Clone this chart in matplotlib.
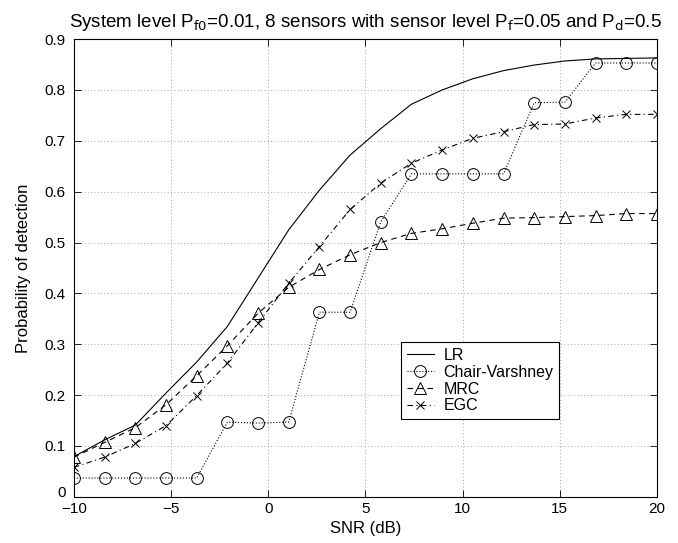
import numpy as np
import matplotlib
matplotlib.use('Agg')
import matplotlib.pyplot as plt
from matplotlib.transforms import ScaledTranslation

plt.rcParams['font.family'] = ['Liberation Sans', 'DejaVu Sans']

# SNR points (dB)
snr = np.linspace(-10, 20, 20)

# curves
pd_lr = [0.079, 0.112, 0.141, 0.204, 0.265, 0.335, 0.430, 0.525, 0.603, 0.672,
         0.724, 0.772, 0.800, 0.822, 0.838, 0.849, 0.857, 0.861, 0.862, 0.863]
pd_cv = [0.037, 0.037, 0.037, 0.037, 0.037, 0.147, 0.145, 0.147, 0.363, 0.363,
         0.541, 0.635, 0.635, 0.635, 0.635, 0.775, 0.776, 0.853, 0.853, 0.853]
pd_mrc = [0.078, 0.107, 0.136, 0.181, 0.238, 0.297, 0.361, 0.412, 0.447, 0.476,
          0.500, 0.518, 0.527, 0.538, 0.548, 0.549, 0.551, 0.553, 0.557, 0.557]
pd_egc = [0.058, 0.078, 0.105, 0.140, 0.199, 0.263, 0.342, 0.420, 0.492, 0.565,
          0.617, 0.656, 0.682, 0.705, 0.718, 0.732, 0.733, 0.745, 0.752, 0.752]

fig, ax = plt.subplots(figsize=(6.78, 5.43), dpi=100)
fig.subplots_adjust(left=0.109, right=0.969, top=0.928, bottom=0.085)

lw = 0.8
ax.plot(snr, pd_lr, '-', color='k', lw=lw, label='LR')
ax.plot(snr, pd_cv, ':', color='k', lw=lw, marker='o', ms=8.5, mfc='none', mew=0.7,
        label='Chair-Varshney')
ax.plot(snr, pd_mrc, '--', color='k', lw=lw, marker='^', ms=8.5, mfc='none', mew=0.7,
        label='MRC', dashes=(5, 4))
ax.plot(snr, pd_egc, '-.', color='k', lw=lw, marker='x', ms=6, mew=0.7,
        label='EGC', dashes=(5, 3, 1, 3))

ax.set_xlim(-10, 20)
ax.set_ylim(0, 0.9)
ax.set_xticks(np.arange(-10, 21, 5))
ax.set_yticks(np.arange(0, 0.91, 0.1))
ax.set_yticklabels(['0', '0.1', '0.2', '0.3', '0.4', '0.5', '0.6', '0.7', '0.8', '0.9'])
ax.tick_params(direction='in', top=True, right=True, labelsize=11, length=5, width=0.6)
ax.tick_params(axis='y', pad=6)
ax.grid(True, ls=(0, (1, 3)), color='#888888', lw=0.6)
for s in ax.spines.values():
    s.set_linewidth(0.8)

# lift the "0" label a bit so it does not run into "-10"
lab0 = ax.get_yticklabels()[0]
lab0.set_transform(lab0.get_transform() + ScaledTranslation(0, 4 / 72, fig.dpi_scale_trans))

ax.set_xlabel('SNR (dB)', fontsize=12)
ax.set_ylabel('Probability of detection', fontsize=12, labelpad=10)
ax.set_title(r'System level P$_{\rm f0}$=0.01, 8 sensors with sensor level P$_{\rm f}$=0.05 and P$_{\rm d}$=0.5',
             fontsize=13.5, pad=9)

leg = ax.legend(loc='upper left', bbox_to_anchor=(0.561, 0.338), borderaxespad=0,
                fontsize=11.5, fancybox=False, edgecolor='k', framealpha=1,
                numpoints=1, handlelength=1.7, borderpad=0.35, labelspacing=0.12,
                handletextpad=0.6)
leg.get_frame().set_linewidth(0.8)

fig.savefig('out.png', dpi=100)
